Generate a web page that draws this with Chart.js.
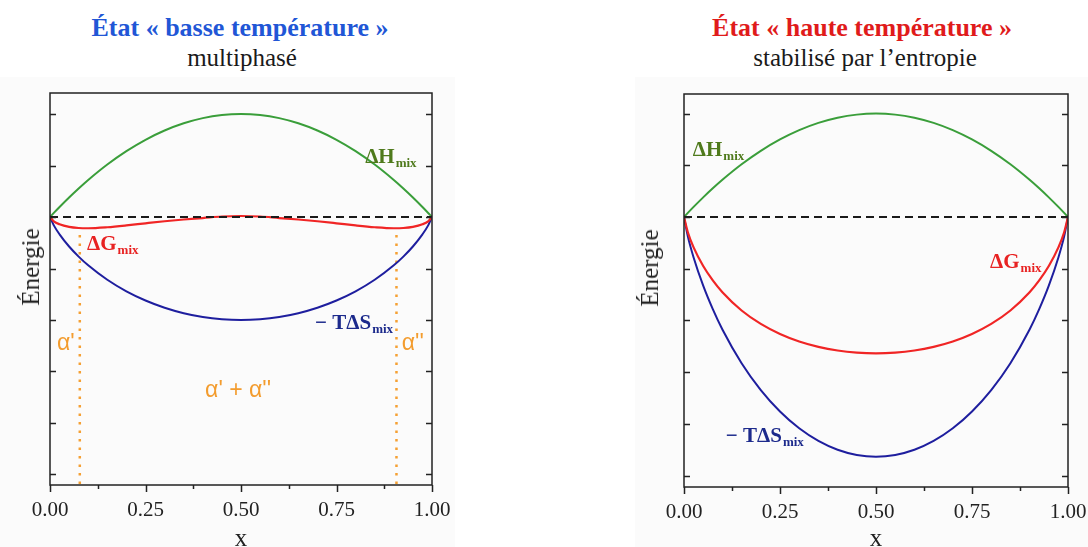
<!doctype html>
<html>
<head>
<meta charset="utf-8">
<title>Enthalpie libre de mélange</title>
<script src="https://cdn.jsdelivr.net/npm/chart.js@4.4.1/dist/chart.umd.min.js"></script>
<style>
body { margin:0; width:1088px; height:547px; overflow:hidden; background:#fff; position:relative; font-family:'Liberation Serif', serif; }
.fond { position:absolute; top:77px; height:470px; background:#fbfbfb; }
.titre { position:absolute; font-size:25px; line-height:30px; white-space:nowrap; transform:translateX(-50%); color:#1a1a1a; }
.ylab { position:absolute; font-size:25px; line-height:28px; white-space:nowrap; color:#222; transform:translate(-50%,-50%) rotate(-90deg); }
canvas { position:absolute; top:0; }
</style>
</head>
<body>
<div class="fond" style="left:0;width:455px"></div>
<div class="fond" style="left:635px;width:453px"></div>

<div class="titre" style="left:240px;top:13px;color:#2156d6;font-weight:bold;font-size:26px">État « basse température »</div>
<div class="titre" style="left:242px;top:43px">multiphasé</div>
<div class="titre" style="left:862px;top:13px;color:#e01b1b;font-weight:bold;font-size:26px">État « haute température »</div>
<div class="titre" style="left:865px;top:43px">stabilisé par l’entropie</div>

<canvas id="gauche" width="460" height="560" style="left:0"></canvas>
<canvas id="droite" width="498" height="560" style="left:590px"></canvas>

<div class="ylab" style="left:31px;top:267px">Énergie</div>
<div class="ylab" style="left:650px;top:268px">Énergie</div>

<script>
// composition x
var xs = [0, 0.01, 0.025, 0.05, 0.075, 0.1, 0.15, 0.2, 0.25, 0.3, 0.35, 0.4, 0.45, 0.5,
          0.55, 0.6, 0.65, 0.7, 0.75, 0.8, 0.85, 0.9, 0.925, 0.95, 0.975, 0.99, 1];

// basse température
var hBasse  = [0, 0.079, 0.195, 0.38, 0.555, 0.72, 1.02, 1.28, 1.5, 1.68, 1.82, 1.92, 1.98, 2.0,
               1.98, 1.92, 1.82, 1.68, 1.5, 1.28, 1.02, 0.72, 0.555, 0.38, 0.195, 0.079, 0];
var tsBasse = [0, -0.162, -0.337, -0.573, -0.769, -0.938, -1.219, -1.444, -1.622, -1.762, -1.868, -1.942, -1.985, -2.0,
               -1.985, -1.942, -1.868, -1.762, -1.622, -1.444, -1.219, -0.938, -0.769, -0.573, -0.337, -0.162, 0];
var gBasse  = [0, -0.083, -0.142, -0.193, -0.214, -0.218, -0.199, -0.164, -0.122, -0.082, -0.048, -0.02, 0.01, 0.02,
               0.01, -0.02, -0.048, -0.082, -0.122, -0.164, -0.199, -0.218, -0.214, -0.193, -0.142, -0.083, 0];

// haute température
var hHaute  = [0, 0.079, 0.195, 0.38, 0.555, 0.72, 1.02, 1.28, 1.5, 1.68, 1.82, 1.92, 1.98, 2.0,
               1.98, 1.92, 1.82, 1.68, 1.5, 1.28, 1.02, 0.72, 0.555, 0.38, 0.195, 0.079, 0];
var tsHaute = [0, -0.375, -0.782, -1.328, -1.782, -2.175, -2.828, -3.348, -3.762, -4.087, -4.331, -4.502, -4.603, -4.637,
               -4.603, -4.502, -4.331, -4.087, -3.762, -3.348, -2.828, -2.175, -1.782, -1.328, -0.782, -0.375, 0];
var gHaute  = [0, -0.296, -0.587, -0.948, -1.227, -1.455, -1.808, -2.068, -2.262, -2.407, -2.511, -2.582, -2.623, -2.637,
               -2.623, -2.582, -2.511, -2.407, -2.262, -2.068, -1.808, -1.455, -1.227, -0.948, -0.587, -0.296, 0];

// limites des phases alpha' et alpha''
var xAlpha = [0.078, 0.907];
var yAlphaHaut = -0.35;

var xTicks = [0, 0.25, 0.5, 0.75, 1];
var xMinor = [0.125, 0.375, 0.625, 0.875];
var yTicks = [2, 1, 0, -1, -2, -3, -4, -5];

function pts(ys) {
    return xs.map(function(x, i) { return {x: x, y: ys[i]}; });
}

var cadre = {
    id: 'cadre',
    afterDraw: function(chart, args, opts) {
        var ctx = chart.ctx, a = chart.chartArea;
        var sx = chart.scales.x, sy = chart.scales.y;
        ctx.save();
        ctx.strokeStyle = '#222';
        ctx.lineWidth = 1.5;
        ctx.strokeRect(a.left, a.top, a.right - a.left, a.bottom - a.top);
        ctx.beginPath();
        sy.ticks.forEach(function(t) {
            var py = Math.round(sy.getPixelForValue(t.value)) + 0.5;
            ctx.moveTo(a.left, py); ctx.lineTo(a.left + 6, py);
            ctx.moveTo(a.right - 6, py); ctx.lineTo(a.right, py);
        });
        sx.ticks.forEach(function(t) {
            var px = Math.round(sx.getPixelForValue(t.value)) + 0.5;
            ctx.moveTo(px, a.bottom); ctx.lineTo(px, a.bottom + 7);
        });
        xMinor.forEach(function(v) {
            var px = Math.round(sx.getPixelForValue(v)) + 0.5;
            ctx.moveTo(px, a.bottom); ctx.lineTo(px, a.bottom + 4);
        });
        ctx.stroke();

        (opts.labels || []).forEach(function(l) {
            var px = sx.getPixelForValue(l.x), py = sy.getPixelForValue(l.y);
            ctx.fillStyle = l.color;
            ctx.textBaseline = 'alphabetic';
            ctx.textAlign = 'left';
            if (l.sub) {
                ctx.font = 'bold 21px "Liberation Serif"';
                ctx.fillText(l.text, px, py);
                var w = ctx.measureText(l.text).width;
                ctx.font = 'bold 13px "Liberation Serif"';
                ctx.fillText(l.sub, px + w + 1, py + 4);
            } else {
                ctx.font = '23px "Liberation Sans"';
                ctx.fillText(l.text, px, py);
            }
        });
        ctx.restore();
    }
};

function makeChart(id, opt) {
    var datasets = [
        { data: [{x: 0, y: 0}, {x: 1, y: 0}], borderColor: '#1a1a1a', borderWidth: 2, borderDash: [8, 5], order: 0 },
        { data: pts(opt.g), borderColor: '#f02525', borderWidth: 2.2, cubicInterpolationMode: 'monotone', order: 1 },
        { data: pts(opt.h), borderColor: '#3a9e3a', borderWidth: 2, cubicInterpolationMode: 'monotone', order: 2 },
        { data: pts(opt.ts), borderColor: '#1e1e9e', borderWidth: 2, cubicInterpolationMode: 'monotone', order: 3 }
    ];
    (opt.alpha || []).forEach(function(xa) {
        datasets.push({ data: [{x: xa, y: yAlphaHaut}, {x: xa, y: opt.ymin}],
            borderColor: '#f5a033', borderWidth: 2.5, borderDash: [2.5, 6], borderCapStyle: 'butt', order: 4 });
    });

    return new Chart(document.getElementById(id).getContext('2d'), {
        type: 'line',
        data: { datasets: datasets },
        plugins: [cadre],
        options: {
            responsive: false,
            animation: false,
            layout: { padding: { left: 0, right: opt.padRight, top: opt.top, bottom: 0 } },
            elements: { point: { radius: 0 } },
            plugins: {
                legend: { display: false },
                tooltip: { enabled: false },
                cadre: { labels: opt.labels }
            },
            scales: {
                x: {
                    type: 'linear', min: 0, max: 1,
                    grid: { display: false },
                    border: { display: false },
                    afterBuildTicks: function(s) { s.ticks = xTicks.map(function(v) { return {value: v}; }); },
                    afterFit: function(s) { s.height = opt.xHeight; s.paddingLeft = 0; s.paddingRight = 0; },
                    ticks: {
                        autoSkip: false, maxRotation: 0, padding: 5, color: '#222',
                        font: { family: 'Liberation Serif', size: 21 },
                        callback: function(v) { return v.toFixed(2); }
                    },
                    title: { display: true, text: 'x', color: '#222', padding: { top: 0, bottom: 6 },
                             font: { family: 'Liberation Serif', size: 25 } }
                },
                y: {
                    type: 'linear', min: opt.ymin, max: opt.ymax,
                    grid: { display: false },
                    border: { display: false },
                    ticks: { display: false },
                    afterBuildTicks: function(s) { s.ticks = yTicks.map(function(v) { return {value: v}; }); },
                    afterFit: function(s) { s.width = opt.yWidth; }
                }
            }
        }
    });
}

makeChart('gauche', {
    h: hBasse, ts: tsBasse, g: gBasse, alpha: xAlpha,
    ymin: -5.204, ymax: 2.408, top: 93, yWidth: 50, padRight: 28, xHeight: 75,
    labels: [
        { text: 'ΔH', sub: 'mix', x: 0.825, y: 1.05, color: '#4f7a1c' },
        { text: 'ΔG', sub: 'mix', x: 0.097, y: -0.64, color: '#e82222' },
        { text: '\u2212 TΔS', sub: 'mix', x: 0.694, y: -2.17, color: '#1c2a8c' },
        { text: "α'", x: 0.018, y: -2.58, color: '#f39c2e' },
        { text: "α''", x: 0.921, y: -2.58, color: '#f39c2e' },
        { text: "α' + α''", x: 0.406, y: -3.5, color: '#f39c2e' }
    ]
});

makeChart('droite', {
    h: hHaute, ts: tsHaute, g: gHaute,
    ymin: -5.222, ymax: 2.379, top: 94, yWidth: 94, padRight: 20, xHeight: 73,
    labels: [
        { text: 'ΔH', sub: 'mix', x: 0.023, y: 1.18, color: '#4f7a1c' },
        { text: 'ΔG', sub: 'mix', x: 0.797, y: -0.99, color: '#e82222' },
        { text: '\u2212 TΔS', sub: 'mix', x: 0.109, y: -4.35, color: '#1c2a8c' }
    ]
});
</script>
</body>
</html>
